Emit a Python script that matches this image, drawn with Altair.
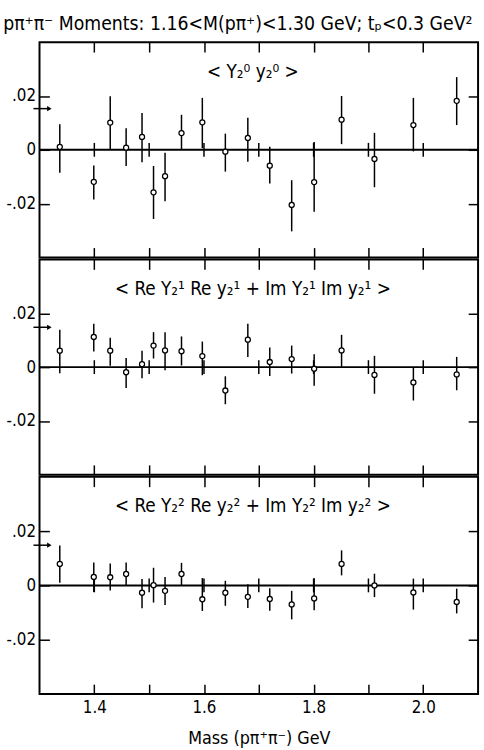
import altair as alt
import pandas as pd

FONT = "DejaVu Sans Condensed, sans-serif"

title_text = "pπ⁺π⁻  Moments: 1.16<M(pπ⁺)<1.30 GeV;  tₚ<0.3 GeV²"
x_title = "Mass (pπ⁺π⁻) GeV"
panel_labels = [
    "< Y₂⁰ y₂⁰ >",
    "< Re Y₂¹ Re y₂¹ + Im Y₂¹ Im y₂¹ >",
    "< Re Y₂² Re y₂² + Im Y₂² Im y₂² >",
]

mass = [1.337, 1.399, 1.429, 1.458, 1.487, 1.508, 1.529, 1.559, 1.597,
        1.639, 1.680, 1.720, 1.760, 1.801, 1.851, 1.911, 1.982, 2.061]

v0 = [0.0011, -0.0119, 0.0101, 0.0008, 0.0048, -0.0158, -0.0098, 0.0062, 0.0102,
      -0.0007, 0.0044, -0.0059, -0.0205, -0.0120, 0.0112, -0.0034, 0.0092, 0.0182]
lo0 = [-0.0085, -0.0185, 0.0000, -0.0060, -0.0046, -0.0257, -0.0191, 0.0002, 0.0006,
       -0.0081, -0.0044, -0.0125, -0.0303, -0.0230, 0.0021, -0.0139, -0.0006, 0.0092]
hi0 = [0.0095, -0.0058, 0.0199, 0.0080, 0.0137, -0.0060, -0.0011, 0.0130, 0.0193,
       0.0060, 0.0119, 0.0011, -0.0113, 0.0029, 0.0200, 0.0063, 0.0193, 0.0270]

v1 = [0.0061, 0.0112, 0.0061, -0.0019, 0.0011, 0.0080, 0.0062, 0.0059, 0.0041,
      -0.0087, 0.0102, 0.0019, 0.0030, -0.0006, 0.0062, -0.0029, -0.0057, -0.0027]
lo1 = [-0.0023, 0.0058, 0.0005, -0.0078, -0.0041, 0.0032, -0.0012, 0.0006, -0.0030,
       -0.0138, 0.0038, -0.0033, -0.0024, -0.0069, 0.0001, -0.0099, -0.0124, -0.0086]
hi1 = [0.0139, 0.0161, 0.0109, 0.0034, 0.0061, 0.0130, 0.0130, 0.0114, 0.0095,
       -0.0034, 0.0161, 0.0073, 0.0080, 0.0048, 0.0120, 0.0042, 0.0001, 0.0038]

v2 = [0.0079, 0.0031, 0.0030, 0.0042, -0.0027, 0.0001, -0.0020, 0.0042, -0.0051,
      -0.0027, -0.0042, -0.0050, -0.0070, -0.0048, 0.0079, 0.0000, -0.0026, -0.0061]
lo2 = [0.0010, -0.0024, -0.0019, -0.0002, -0.0084, -0.0063, -0.0072, 0.0000, -0.0094,
       -0.0075, -0.0083, -0.0093, -0.0125, -0.0091, 0.0037, -0.0043, -0.0089, -0.0103]
hi2 = [0.0147, 0.0084, 0.0081, 0.0084, 0.0024, 0.0065, 0.0031, 0.0083, 0.0027,
       0.0017, 0.0004, -0.0010, -0.0020, 0.0026, 0.0129, 0.0043, 0.0025, -0.0012]

arrow_vals = [0.0153, 0.0148, 0.0148]
arrow_x0 = [1.289]
arrow_x1 = [1.318]

x_ticks = [1.4, 1.5, 1.6, 1.7, 1.8, 1.9, 2.0]
x_labels = ["1.4", "1.6", "1.8", "2.0"]
y_ticks = [-0.02, 0.0, 0.02]
x_domain = [1.3, 2.1]
y_domain = [-0.04, 0.04]

W = 444
HEIGHTS = [218, 218, 220]

xs = alt.Scale(domain=x_domain, nice=False, zero=False)
ys = alt.Scale(domain=y_domain, nice=False, zero=False)

tick_common = dict(domain=False, grid=False, tickColor="black", tickWidth=1.5,
                   tickSize=10, offset=-10, minExtent=0)

x_label_expr = ("indexof(" + str(x_labels) + ", format(datum.value, '.1f')) >= 0 "
                "? format(datum.value, '.1f') : ''")
y_label_expr = ("datum.value == 0 ? '0' : "
                "replace(replace(format(datum.value, '.2f'), '\u2212', '-'), '0.', '.')")


def panel(label, v, lo, hi, arrow, height, show_x):
    df = pd.DataFrame({"mass": mass, "v": v, "lo": lo, "hi": hi})
    if show_x:
        xaxis = alt.Axis(values=x_ticks, labelExpr=x_label_expr, title=x_title,
                         labelFont=FONT, labelFontSize=17, labelColor="black",
                         labelPadding=5.5, titleFont=FONT, titleFontSize=18,
                         titleFontWeight="normal", titleColor="black",
                         titlePadding=14.5, **tick_common)
    else:
        xaxis = alt.Axis(values=x_ticks, labels=False, title=None, **tick_common)
    yaxis = alt.Axis(values=y_ticks, labelExpr=y_label_expr, title=None,
                     labelFont=FONT, labelFontSize=17, labelColor="black",
                     labelPadding=4, **tick_common)
    top_axis = alt.Axis(orient="top", values=x_ticks, labels=False, title=None, **tick_common)
    right_axis = alt.Axis(orient="right", values=y_ticks, labels=False, title=None, **tick_common)

    zdf = pd.DataFrame({"z": [0.0]})
    tdf = pd.DataFrame({"t": x_ticks, "z": [0.0] * len(x_ticks)})
    adf = pd.DataFrame({"x0": arrow_x0, "x1": arrow_x1, "y": [arrow]})

    zero = alt.Chart(zdf).mark_rule(color="black", strokeWidth=2).encode(
        y=alt.Y("z:Q", scale=ys, axis=None))
    zticks = alt.Chart(tdf).mark_tick(orient="vertical", size=14, thickness=1.5,
                                      color="black", opacity=1).encode(
        x=alt.X("t:Q", scale=xs, axis=None), y=alt.Y("z:Q", scale=ys, axis=None))
    bars = alt.Chart(df).mark_rule(color="black", strokeWidth=1.5).encode(
        x=alt.X("mass:Q", scale=xs, axis=xaxis),
        y=alt.Y("lo:Q", scale=ys, axis=yaxis), y2="hi:Q")
    pts = alt.Chart(df).mark_point(shape="circle", filled=True, fill="white",
                                   stroke="black", strokeWidth=1.3, size=26,
                                   opacity=1).encode(
        x=alt.X("mass:Q", scale=xs, axis=None), y=alt.Y("v:Q", scale=ys, axis=None))
    arule = alt.Chart(adf).mark_rule(color="black", strokeWidth=1.5).encode(
        x=alt.X("x0:Q", scale=xs, axis=None), x2="x1:Q",
        y=alt.Y("y:Q", scale=ys, axis=None))
    ahead = alt.Chart(adf).mark_point(shape="triangle-right", filled=True,
                                      color="black", size=28, opacity=1).encode(
        x=alt.X("x1:Q", scale=xs, axis=None), y=alt.Y("y:Q", scale=ys, axis=None))
    frame = alt.Chart(df).mark_point(opacity=0).encode(
        x=alt.X("mass:Q", scale=xs, axis=top_axis),
        y=alt.Y("v:Q", scale=ys, axis=right_axis))
    text = alt.Chart(zdf).mark_text(font=FONT, fontSize=19, color="black",
                                    align="center", baseline="alphabetic").encode(
        x=alt.value(216), y=alt.value(36), text=alt.value(label))

    return alt.layer(zero, zticks, bars, pts, arule, ahead, frame, text).resolve_axis(
        x="independent", y="independent").properties(width=W, height=height)


panels = [
    panel(panel_labels[0], v0, lo0, hi0, arrow_vals[0], HEIGHTS[0], False),
    panel(panel_labels[1], v1, lo1, hi1, arrow_vals[1], HEIGHTS[1], False),
    panel(panel_labels[2], v2, lo2, hi2, arrow_vals[2], HEIGHTS[2], True),
]

chart = alt.vconcat(*panels, spacing=-5).properties(
    title=alt.TitleParams(title_text, anchor="start", dx=-2, offset=6.5, font=FONT,
                          fontSize=19.5, fontWeight="normal", color="black"),
    padding={"left": 3, "top": 9, "right": 0, "bottom": 0},
    background="white",
).configure_view(stroke="black", strokeWidth=2)

chart.save("out.html", embed_options={"renderer": "svg", "actions": False})
